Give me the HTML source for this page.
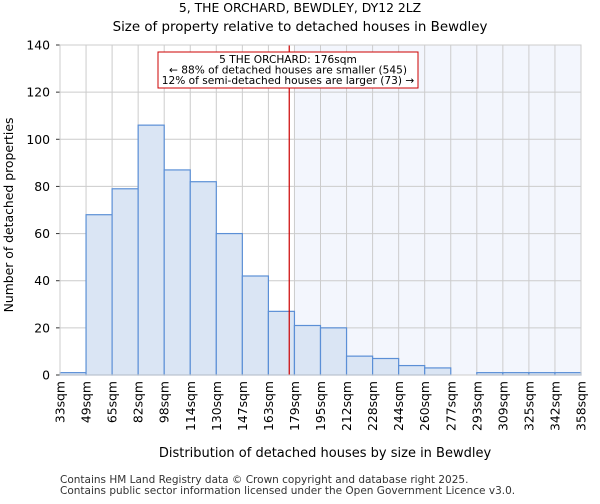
<!DOCTYPE html>
<html><head><meta charset="utf-8"><style>
body{margin:0;background:#fff;font-family:"DejaVu Sans","Liberation Sans",sans-serif}
</style></head><body>
<svg id="chart" width="600" height="500" xmlns="http://www.w3.org/2000/svg" font-family="DejaVu Sans, Liberation Sans, sans-serif">
<text x="300" y="12" text-anchor="middle" font-size="12.4">5, THE ORCHARD, BEWDLEY, DY12 2LZ</text>
<text x="300" y="31" text-anchor="middle" font-size="13.4">Size of property relative to detached houses in Bewdley</text>
<g id="grid"></g><g id="bars"></g><g id="axes"></g>
<text x="325" y="457" text-anchor="middle" font-size="13">Distribution of detached houses by size in Bewdley</text>
<text transform="translate(13,215) rotate(-90)" text-anchor="middle" font-size="12.4">Number of detached properties</text>
<text x="60" y="483" font-size="10.5" fill="#333">Contains HM Land Registry data © Crown copyright and database right 2025.</text>
<text x="60" y="494" font-size="10.5" fill="#333">Contains public sector information licensed under the Open Government Licence v3.0.</text>
</svg>
<script>
const binLabels=["33sqm","49sqm","65sqm","82sqm","98sqm","114sqm","130sqm","147sqm","163sqm","179sqm","195sqm","212sqm","228sqm","244sqm","260sqm","277sqm","293sqm","309sqm","325sqm","342sqm","358sqm"];
const counts=[1,68,79,106,87,82,60,42,27,21,20,8,7,4,3,0,1,1,1,1];
const yTicks=[0,20,40,60,80,100,120,140];
const propertySize=176;
const binStart=33, binStep=16.25, yMax=140;
const L=60,R=581,T=45,B=375;
const NS="http://www.w3.org/2000/svg";
const bw=(R-L)/counts.length;
const xs=v=>L+(v-binStart)/binStep*bw;
const ys=v=>B-(v/yMax)*(B-T);
function mk(tag,attrs,parent,text){const e=document.createElementNS(NS,tag);for(const k in attrs)e.setAttribute(k,attrs[k]);if(text!==undefined)e.textContent=text;parent.appendChild(e);return e;}
const grid=document.getElementById('grid'),bars=document.getElementById('bars'),axes=document.getElementById('axes');
const px=xs(propertySize);
const shadeStart=L+Math.ceil((px-L)/bw)*bw;
let sh=mk('rect',{x:shadeStart,y:T,width:R-shadeStart,height:B-T,fill:'#f3f6fd'},grid);


for(let i=0;i<=counts.length;i++){
 let g=mk('line',{x1:L+i*bw,x2:L+i*bw,y1:T,y2:B,stroke:'#ccc','stroke-width':1},grid);
 
 
 let t=mk('text',{transform:`translate(${L+i*bw+4.5},${B+6}) rotate(-90)`,'text-anchor':'end','font-size':12.4},axes,binLabels[i]);
 
 
}
yTicks.forEach(v=>{
 let g=mk('line',{x1:L,x2:R,y1:ys(v),y2:ys(v),stroke:'#ccc','stroke-width':1},grid);
 
 
 mk('line',{x1:L-4,x2:L,y1:ys(v),y2:ys(v),stroke:'#333'},axes);
 let t=mk('text',{x:L-10,y:ys(v)+4.5,'text-anchor':'end','font-size':12.4},axes,String(v));
 
 
});
counts.forEach((c,i)=>{
 if(c<=0)return;
 let r=mk('rect',{x:L+i*bw,y:ys(c),width:bw,height:B-ys(c),fill:'#dae5f4',stroke:'#5b8fd6','stroke-width':1.2},bars);
 
 
});
let ax=mk('rect',{x:L,y:T,width:R-L,height:B-T,fill:'none',stroke:'#ccc'},axes);


let vl=mk('line',{x1:px,x2:px,y1:T,y2:B,stroke:'#c00','stroke-width':1.2},bars);


let box=mk('rect',{x:158,y:52,width:260,height:36,fill:'#fff',stroke:'#c00','stroke-width':1},bars);


["5 THE ORCHARD: 176sqm","← 88% of detached houses are smaller (545)","12% of semi-detached houses are larger (73) →"].forEach((s,i)=>{
 let t=mk('text',{x:288,y:63+i*10.5,'text-anchor':'middle','font-size':10.6},bars,s);
 
 
});
</script>
</body></html>
